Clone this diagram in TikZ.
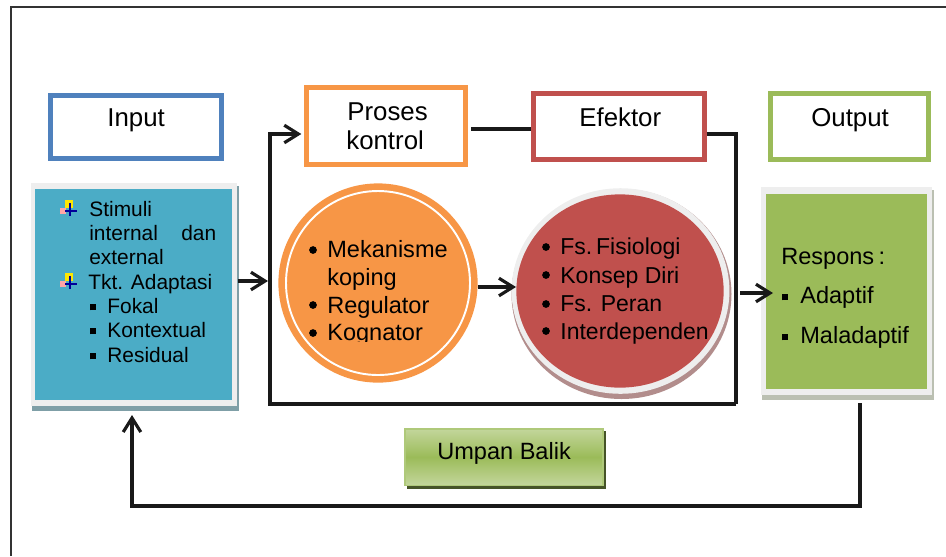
\documentclass[tikz,border=0pt]{standalone}
\usepackage{fontspec}
\setmainfont{Liberation Sans}
\usetikzlibrary{arrows.meta,shapes.geometric}
\definecolor{inputBlue}{HTML}{4F81BD}
\definecolor{prosesOrange}{HTML}{F79646}
\definecolor{efektorRed}{HTML}{C0504D}
\definecolor{outputGreen}{HTML}{9BBB59}
\definecolor{stimuliTeal}{HTML}{4BACC6}
\definecolor{frameGrey}{HTML}{EEEEEE}
\tikzstyle{titleBox}=[shape = rectangle, draw, line width = 2.7pt, fill = white, inner sep = 0pt]
\tikzstyle{listLine}=[anchor = base west, inner sep = 0pt, font = \fontsize{13.4}{16}\selectfont]
\tikzstyle{titleLine}=[listLine, font = \fontsize{14.7}{17}\selectfont]
\tikzstyle{smallLine}=[listLine, font = \fontsize{11.9}{14}\selectfont]
\tikzstyle{fungsiLine}=[listLine, font = \fontsize{13.1}{16}\selectfont]
\tikzstyle{flatBox}=[shape = rectangle, inner sep = 0pt]
\tikzstyle{roundMark}=[shape = circle, fill = black, minimum size = 4.4pt, inner sep = 0pt]
\tikzstyle{link}=[line width = 1.8pt, black!90]
\tikzstyle{linkArrow}=[link, -{Straight Barb[length = 8pt, width = 10pt, line width = 1.8pt]}]
\tikzset{adaptIcon/.pic={
\fill[red!35] (0,8) rectangle (6,14);
\fill[yellow!90!orange] (5,0) rectangle (13,8);
\fill[blue!60!black] (9,3) rectangle (11,16);
\fill[blue!60!black] (5,10) rectangle (17,12);
}}
\newcommand{\squareMark}{\rule[1.5pt]{3.4pt}{3.4pt}}
\begin{document}
\begin{tikzpicture}[x = 0.02cm, y = -0.02cm]
\useasboundingbox (0,0) rectangle (946,556);
% outer frame
\draw[line width = 0.8pt, black!80] (11,556) -- (11,7) -- (946,7);
% title boxes
\node[titleBox, draw = inputBlue, minimum width = 97pt, minimum height = 36pt] (input) at (136,127) {};
\node[titleBox, draw = prosesOrange, minimum width = 90.7pt, minimum height = 43.7pt] (proses) at (386,126) {};
\node[titleBox, draw = efektorRed, minimum width = 97pt, minimum height = 37.4pt] (efektor) at (619,126.5) {};
\node[titleBox, draw = outputGreen, minimum width = 89.6pt, minimum height = 37.4pt] (output) at (849.5,126.5) {};
\node[titleLine] (inputText) at (107,126) {Input};
\node[titleLine] (prosesTextA) at (347,120) {Proses};
\node[titleLine] (prosesTextB) at (346,149) {kontrol};
\node[titleLine] (efektorText) at (579,126) {Efektor};
\node[titleLine] (outputText) at (811,126) {Output};
% stimuli box
\fill[stimuliTeal!55!black!60] (32,186) rectangle (239,411);
\node[flatBox, fill = frameGrey, minimum width = 116.8pt, minimum height = 126.4pt] (stimuliBack) at (134,294.5) {};
\node[flatBox, fill = stimuliTeal, minimum width = 111.7pt, minimum height = 119.6pt] (stimuli) at (133.5,294.5) {};
% output box
\fill[outputGreen!40!black!35] (762,190) rectangle (934,400);
\node[flatBox, fill = frameGrey, minimum width = 97pt, minimum height = 118pt] (responsBack) at (846.5,291) {};
\node[flatBox, fill = outputGreen, minimum width = 91.3pt, minimum height = 111pt] (respons) at (846.5,291) {};
% circles
\node[shape = circle, fill = prosesOrange, minimum size = 113.4pt, inner sep = 0pt] (koping) at (378,283) {};
\draw[white, line width = 1.1pt] (koping.center) circle (92);
\fill[efektorRed!60!black!55] (621.5,294) ellipse (110 and 105);
\node[shape = ellipse, fill = frameGrey, minimum width = 124pt, minimum height = 117pt, inner sep = 0pt] (fungsiBack) at (620.5,291) {};
\node[shape = ellipse, fill = efektorRed, minimum width = 118pt, minimum height = 110pt, inner sep = 0pt] (fungsi) at (620,291) {};
% umpan balik box
\fill[outputGreen!45!black] (407,431) rectangle (606,489);
\node[flatBox, draw = outputGreen!80!white, line width = 0.8pt, top color = outputGreen!60!white, bottom color = outputGreen!60!white, middle color = outputGreen, minimum width = 112.6pt, minimum height = 32.1pt] (umpan) at (504,457) {};
\node[listLine] (umpanText) at (437,459) {Umpan Balik};
% stimuli text
\pic at (60,200) {adaptIcon};
\pic at (60,273) {adaptIcon};
\node[smallLine] (s1) at (89,216) {Stimuli};
\node[smallLine] (s2a) at (89,240) {internal};
\node[smallLine] (s2b) at (181,240) {dan};
\node[smallLine] (s3) at (89,264) {external};
\node[smallLine] (s4) at (88,289) {Tkt. Adaptasi};
\node[smallLine] (s5m) at (90,313) {\squareMark};
\node[smallLine] (s5) at (107,313) {Fokal};
\node[smallLine] (s6m) at (90,337) {\squareMark};
\node[smallLine] (s6) at (107,337) {Kontextual};
\node[smallLine] (s7m) at (90,362) {\squareMark};
\node[smallLine] (s7) at (107,362) {Residual};
% koping text
\node[roundMark] (k1m) at (313,250) {};
\node[listLine] (k1) at (327,257) {Mekanisme};
\node[listLine] (k2) at (327,285) {koping};
\node[roundMark] (k3m) at (313,305) {};
\node[listLine] (k3) at (327,313) {Regulator};
\node[roundMark] (k4m) at (313,333) {};
\begin{scope}
\clip (320,320) rectangle (460,341);
\node[listLine] (k4) at (327,340) {Kognator};
\end{scope}
% fungsi text
\node[roundMark] (f1m) at (546,247) {};
\node[fungsiLine] (f1) at (560,254) {Fs.\hspace{2.2pt}Fisiologi};
\node[roundMark] (f2m) at (546,275) {};
\node[fungsiLine] (f2) at (560,283) {Konsep Diri};
\node[roundMark] (f3m) at (546,304) {};
\node[fungsiLine] (f3) at (560,311) {Fs. Peran};
\node[roundMark] (f4m) at (546,331) {};
\node[fungsiLine] (f4) at (560,339) {Interdependen};
% respons text
\node[listLine] (r1) at (781,264) {Respons\hspace{2.5pt}:};
\node[listLine] (r2m) at (782,303) {\squareMark};
\node[listLine] (r2) at (800,303) {Adaptif};
\node[listLine] (r3m) at (782,343) {\squareMark};
\node[listLine] (r3) at (800,343) {Maladaptif};
% connectors
\coordinate (bottomLeft) at (270,404);
\coordinate (bottomRight) at (736,404);
\coordinate (topLeft) at (270,134);
\coordinate (topRight) at (736,134);
\coordinate (joinLeft) at (471,129);
\coordinate (joinRight) at (531,129);
\coordinate (stimuliOut) at (238,281);
\coordinate (stimuliTip) at (268,281);
\coordinate (fungsiOut) at (740,293);
\coordinate (responsTip) at (773,293);
\coordinate (feedStart) at (860,403);
\coordinate (feedRight) at (860,506);
\coordinate (feedLeft) at (132,506);
\coordinate (feedTip) at (132,415);
\draw[linkArrow, shorten >=1.5pt] (bottomRight) -- (bottomLeft) -- (topLeft) -- (proses.west |- topLeft);
\draw[link] (joinLeft) -- (joinRight);
\draw[link] (efektor.east |- topRight) -- (topRight) -- (bottomRight);
\draw[linkArrow] (stimuliOut) -- (stimuliTip);
\draw[linkArrow] (koping.east |- 0,287) -- (fungsi.west |- 0,287);
\draw[linkArrow] (fungsiOut) -- (responsTip);
\draw[linkArrow] (feedStart) -- (feedRight) -- (feedLeft) -- (feedTip);
\end{tikzpicture}
\end{document}
